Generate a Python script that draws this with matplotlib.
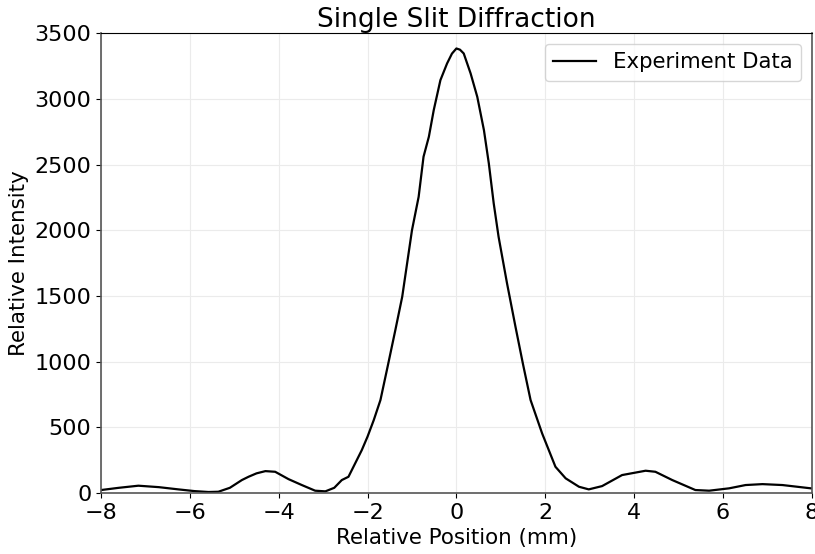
import matplotlib
matplotlib.use('Agg')
import matplotlib.pyplot as plt

# Valores (posicion en mm, intensidad relativa)
position = [-8.0, -7.6, -7.16, -6.7, -6.26, -5.9, -5.58, -5.36, -5.1, -4.83, -4.68,
            -4.5, -4.3, -4.08, -3.78, -3.48, -3.18, -2.95, -2.75, -2.58, -2.43,
            -2.13, -2.0, -1.86, -1.71, -1.55, -1.375, -1.22, -1.0, -0.85, -0.74,
            -0.62, -0.51, -0.36, -0.21, -0.1, 0.0, 0.08, 0.165, 0.32, 0.47, 0.62, 0.73, 0.84,
            0.95, 1.14, 1.33, 1.5, 1.67, 1.93, 2.23, 2.46, 2.76, 2.98, 3.28, 3.73,
            4.26, 4.48, 4.86, 5.38, 5.69, 6.14, 6.51, 6.89, 7.34, 7.98]
intensity = [23, 40, 56, 45, 28, 15, 8, 10, 40, 99, 124,
             150, 167, 162, 106, 61, 18, 13, 40, 99, 124,
             327, 430, 556, 708, 960, 1240, 1494, 2001, 2255, 2560,
             2712, 2915, 3143, 3270, 3345, 3384, 3375, 3346, 3194, 3016, 2762, 2509, 2205,
             1950, 1596, 1266, 980, 708, 454, 200, 112, 48, 28, 53, 137,
             170, 162, 99, 23, 18, 36, 61, 68, 61, 36]

plt.rcParams['font.size'] = 16

fig = plt.figure(figsize=(8.15, 5.54), dpi=100)
ax = fig.add_axes([0.124, 0.110, 0.872, 0.830])

ax.plot(position, intensity, color='black', linewidth=1.6, label='Experiment Data')
ax.set_xlim(-8, 8)
ax.set_ylim(0, 3500)
ax.grid(True, color='#ebebeb', linewidth=0.8)
ax.set_axisbelow(True)
for side in ['left', 'bottom', 'right']:
    ax.spines[side].set_color('#555555')
    ax.spines[side].set_linewidth(1.2)
ax.set_title('Single Slit Diffraction', fontsize=19, pad=4)
ax.set_xlabel('Relative Position (mm)', fontsize=15.4)
ax.set_ylabel('Relative Intensity', fontsize=15.4)
ax.legend(loc='upper right', fontsize=15.3)

fig.savefig('out.png', dpi=100)
